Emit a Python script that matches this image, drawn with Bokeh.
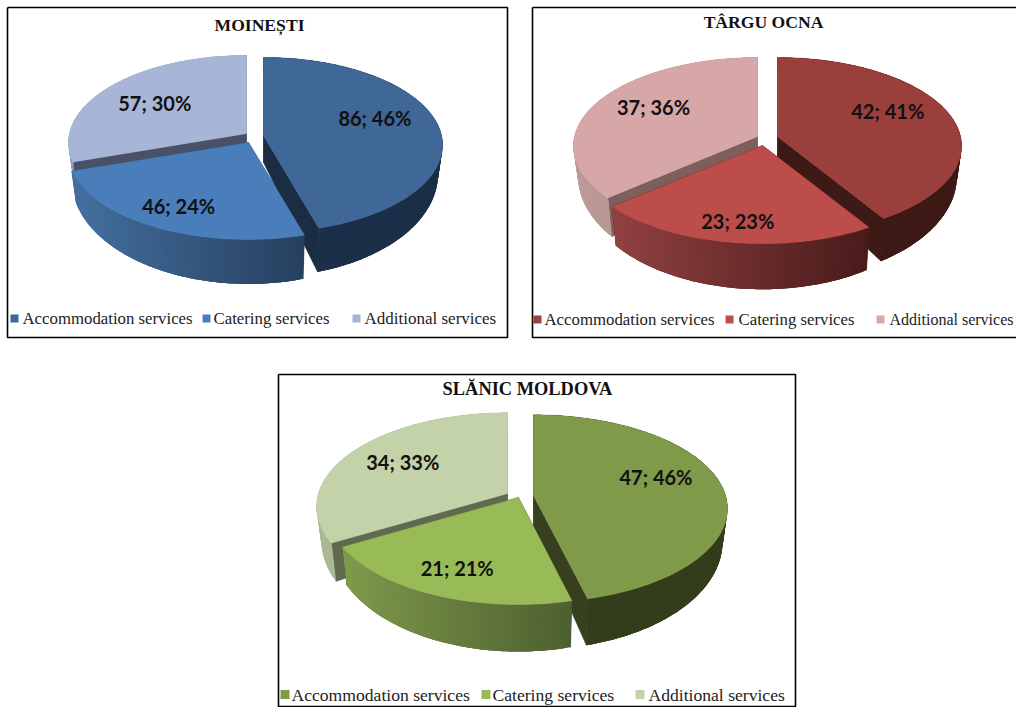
import math
from bokeh.core.properties import value
from bokeh.embed import file_html
from bokeh.models import Range1d
from bokeh.plotting import figure
from bokeh.resources import INLINE

# Tourism service revenue shares for three resort towns
categories = ["Accommodation services", "Catering services", "Additional services"]
moinesti_values = [86, 46, 57]
moinesti_percents = [46, 24, 30]
targu_values = [42, 23, 37]
targu_percents = [41, 23, 36]
slanic_values = [47, 21, 34]
slanic_percents = [46, 21, 33]

# Page geometry of each pie: frame, slice apexes, disk radii, wall depth, colours
PANELS = [
    dict(title="MOINEȘTI", title_xy=(259, 24), title_size=17.6, frame=(7, 7, 507, 337),
         values=moinesti_values, percents=moinesti_percents,
         apex=[(263, 135), (248, 142), (246, 133)], rx=[178, 180, 177], sy=86.5, depth=27,
         persp=0.108, wall_y=1.18,
         top=["#3F6797", "#4A7EBB", "#A7B6D6"],
         wall=[("#1B2F48", "#1B2F48"), ("#44709F", "#26405F"), ("#8E9BB6", "#8E9BB6")],
         cut=["#1A2D45", "#1A2D45", "#4A5166"],
         nudge=[(-2, -10), (-12, 10), (-2, 1)],
         legend_y=318, swatch_x=[10, 202, 352], swatch=8,
         text_x=[22, 213, 364], legend_size=[16.8, 16.8, 17.0]),
    dict(title="TÂRGU OCNA", title_xy=(763, 21), title_size=17.6, frame=(532, 7, 1030, 337),
         values=targu_values, percents=targu_percents,
         apex=[(777, 136), (762, 145), (757, 136)], rx=[183, 184, 183], sy=87.5, depth=28,
         persp=0.108, wall_y=1.18,
         top=["#9A3F3C", "#BC4D4A", "#D6A7A6"],
         wall=[("#3E1A17", "#3E1A17"), ("#914140", "#4A1B1B"), ("#BC9A97", "#B08C89")],
         cut=["#3E1A17", "#3E1A17", "#7D5F5E"],
         nudge=[(-2, -10), (-5, 15), (1, -6)],
         legend_y=319, swatch_x=[533, 725, 876], swatch=8,
         text_x=[544, 738, 889], legend_size=[16.8, 16.8, 16.0]),
    dict(title="SLĂNIC MOLDOVA", title_xy=(527, 388), title_size=18.4, frame=(278, 374, 795, 706),
         values=slanic_values, percents=slanic_percents,
         apex=[(533, 495), (518, 497), (507, 493)], rx=[192, 189, 189], sy=92, depth=31,
         persp=0.14, wall_y=1.15,
         top=["#7F9A48", "#99BB57", "#C3D2A8"],
         wall=[("#333D1C", "#333D1C"), ("#7F9A4B", "#4E6030"), ("#ABB996", "#A5B38F")],
         cut=["#36401F", "#36401F", "#5F6A50"],
         nudge=[(0, -11), (-9, 10), (-3, -3)],
         legend_y=694, swatch_x=[280, 481, 635], swatch=9,
         text_x=[291, 492, 648], legend_size=[17.6, 17.6, 17.6]),
]

WALL_X = 0.975        # lower rim is slightly narrower
DRAW_ORDER = [2, 0, 1]


def project(panel, i, angle, radius=1.0):
    """Disk point of slice i at a clockwise angle from twelve o'clock, in page pixels."""
    apex, rx, sy = panel["apex"][i], panel["rx"][i], panel["sy"]
    u, v = radius * math.sin(angle), radius * math.cos(angle)
    w = 1 + panel["persp"] * v
    return apex[0] + rx * u / w, apex[1] - sy * v / w


def lower(panel, i, point):
    """Same disk point on the lower rim of the wall."""
    apex = panel["apex"][i]
    return (apex[0] + WALL_X * (point[0] - apex[0]),
            apex[1] + panel["depth"] + panel["wall_y"] * (point[1] - apex[1]))


def mix(a, b, t):
    ca = [int(a[i:i + 2], 16) for i in (1, 3, 5)]
    cb = [int(b[i:i + 2], 16) for i in (1, 3, 5)]
    return "#%02x%02x%02x" % tuple(round(x + (y - x) * t) for x, y in zip(ca, cb))


p = figure(width=1016, height=707, output_backend="svg", toolbar_location=None,
           x_range=Range1d(0, 1016), y_range=Range1d(707, 0), min_border=0,
           background_fill_color="white", border_fill_color="white")
p.axis.visible = False
p.grid.visible = False
p.outline_line_color = None

for panel in PANELS:
    x0, y0, x1, y1 = panel["frame"]
    p.line([x0, x1, x1, x0, x0], [y0, y0, y1, y1, y0], line_color="black", line_width=1.6)

    total = sum(panel["values"])
    spans, start = [], 0.0
    for val in panel["values"]:
        sweep = 2 * math.pi * val / total
        spans.append((start, start + sweep))
        start += sweep

    for i in DRAW_ORDER:
        a0, a1 = spans[i]
        apex = panel["apex"][i]
        steps = max(24, int((a1 - a0) * 60))
        arc = [project(panel, i, a0 + (a1 - a0) * k / steps) for k in range(steps + 1)]
        rim = [lower(panel, i, pt) for pt in arc]
        apex_low = lower(panel, i, apex)

        # cut faces along both radii
        for pt, pt_low in ((arc[0], rim[0]), (arc[-1], rim[-1])):
            p.patch([apex[0], pt[0], pt_low[0], apex_low[0]],
                    [apex[1], pt[1], pt_low[1], apex_low[1]],
                    fill_color=panel["cut"][i], line_color=panel["cut"][i], line_width=0.5)

        # curved outer wall: overlapping strips shaded left to right, so no seams show
        left, right = min(q[0] for q in arc), max(q[0] for q in arc)
        c0, c1 = panel["wall"][i]
        xs, ys, cols = [], [], []
        for k in range(steps):
            end = min(k + 3, steps)
            xs.append([q[0] for q in arc[k:end + 1]] + [q[0] for q in rim[k:end + 1]][::-1])
            ys.append([q[1] for q in arc[k:end + 1]] + [q[1] for q in rim[k:end + 1]][::-1])
            cols.append(mix(c0, c1, (arc[k][0] - left) / max(right - left, 1)))
        p.patches(xs, ys, fill_color=cols, fill_alpha=1.0, line_color=None)

        # top face
        p.patch([apex[0]] + [q[0] for q in arc], [apex[1]] + [q[1] for q in arc],
                fill_color=panel["top"][i], line_color=panel["top"][i], line_width=0.5)

    # data labels, placed around each slice's mid angle
    for i, (a0, a1) in enumerate(spans):
        lx, ly = project(panel, i, (a0 + a1) / 2, 0.65)
        nx, ny = panel["nudge"][i]
        p.text([lx + nx], [ly + ny], text=[f"{panel['values'][i]}; {panel['percents'][i]}%"],
               text_font=value("Lato"), text_font_style="bold", text_font_size="20px",
               text_color="#111111", text_align="center", text_baseline="middle")

    p.text([panel["title_xy"][0]], [panel["title_xy"][1]], text=[panel["title"]],
           text_font=value("Liberation Serif"), text_font_style="bold",
           text_font_size=f"{panel['title_size']}px",
           text_color="#111111", text_align="center", text_baseline="middle")

    # legend row
    ly = panel["legend_y"]
    half = panel["swatch"] / 2
    for i, name in enumerate(categories):
        sx = panel["swatch_x"][i]
        p.quad(left=[sx], right=[sx + panel["swatch"]], top=[ly - half], bottom=[ly + half],
               fill_color=panel["top"][i], line_color=None)
        p.text([panel["text_x"][i]], [ly], text=[name],
               text_font=value("Liberation Serif"), text_font_size=f"{panel['legend_size'][i]}px",
               text_color="#222222", text_align="left", text_baseline="middle")

open("out.html", "w").write(file_html(p, INLINE))
